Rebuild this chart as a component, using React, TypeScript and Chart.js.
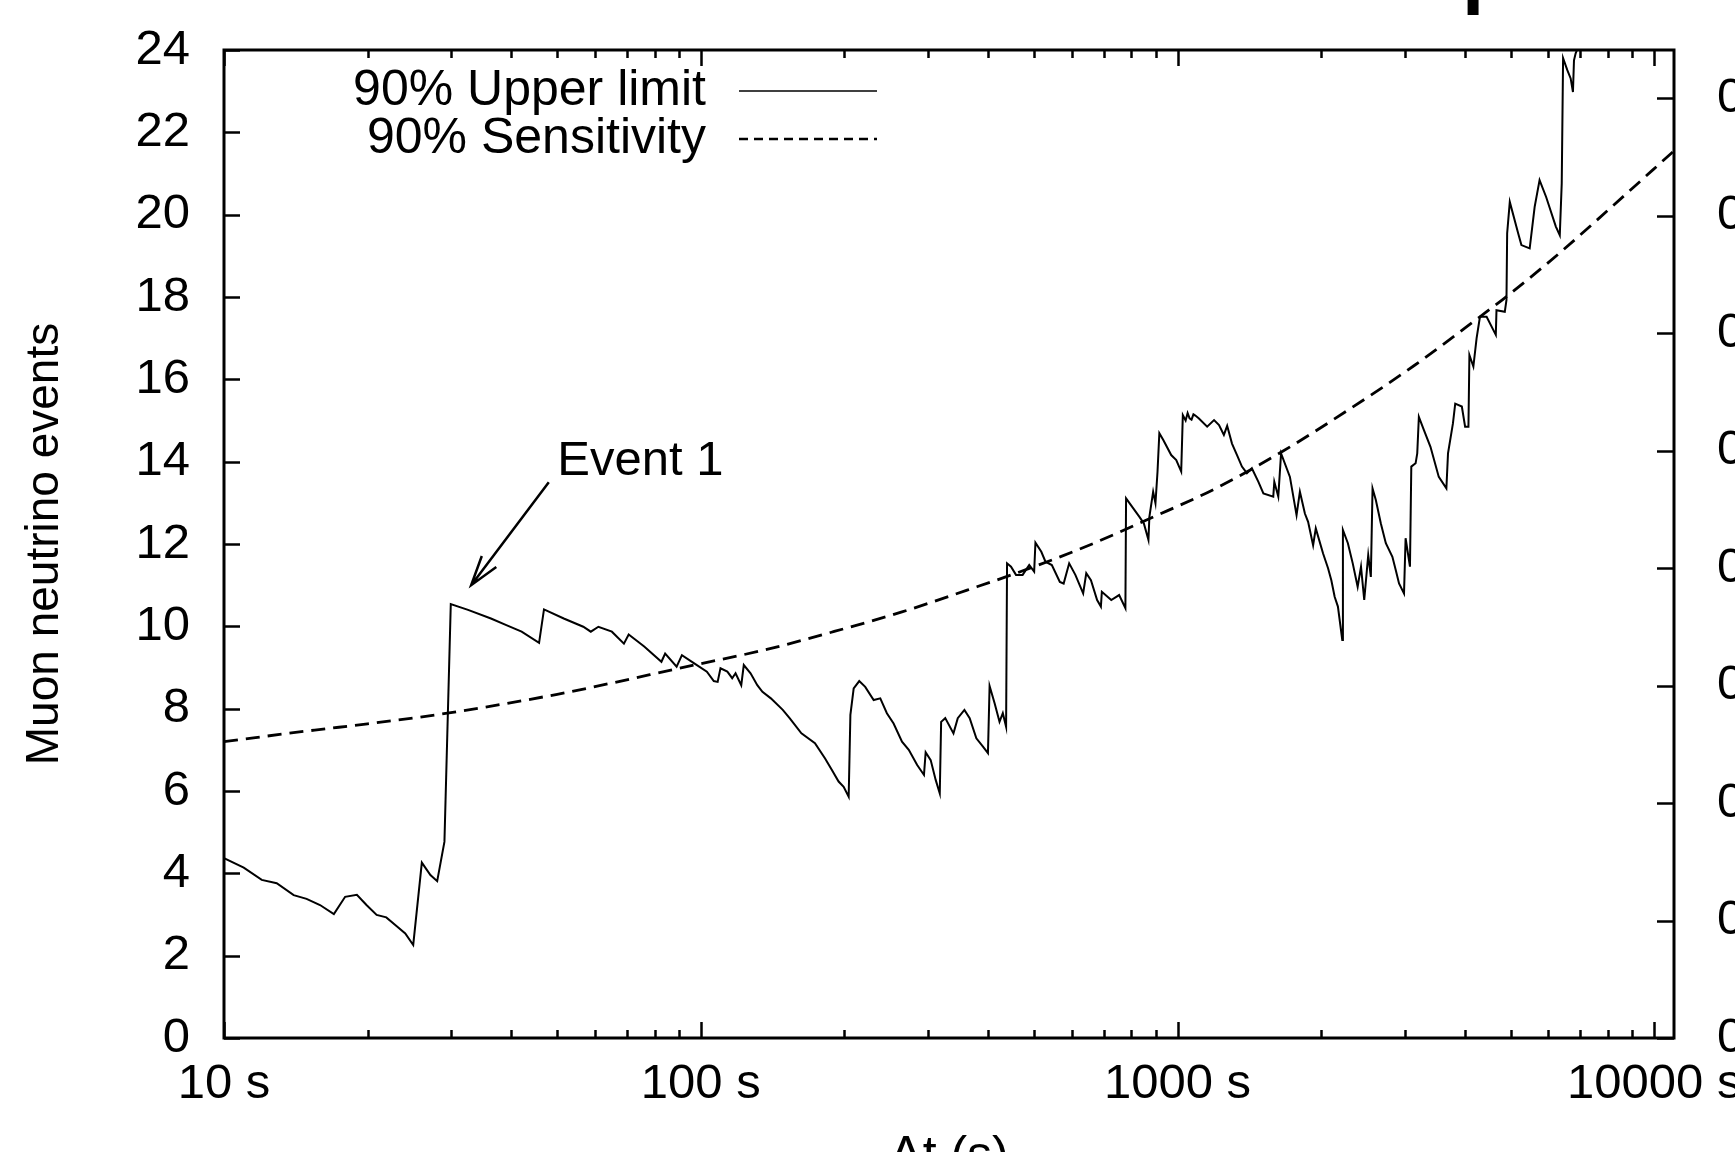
import React, { useEffect, useRef } from 'react';
import { Chart, registerables } from 'chart.js';

Chart.register(...registerables);

// ---------------- data ----------------
const seriesLabels = ['90% Upper limit', '90% Sensitivity'];

// [time in s, muon neutrino events]
const upperLimit: [number, number][] = [
  [10, 4.37], [11, 4.14], [12, 3.84], [12.9, 3.76], [14, 3.47], [14.9, 3.38], [15.9, 3.23], [17, 3.01],
  [17.95, 3.43], [19, 3.48], [19.9, 3.23], [20.9, 2.99], [21.9, 2.93], [23, 2.72], [24, 2.54], [24.94, 2.26],
  [26, 4.26], [27.1, 3.96], [28, 3.81], [29, 4.77], [29.9, 10.54], [32.5, 10.4], [36.3, 10.19], [39.1, 10.03],
  [42.1, 9.87], [45.8, 9.6], [46.9, 10.41], [51.6, 10.19], [56.7, 9.99], [58.8, 9.87], [61, 9.99], [65.1, 9.87],
  [69, 9.58], [70.6, 9.8], [76.1, 9.51], [82.7, 9.14], [84.2, 9.34], [89, 9.02], [91.3, 9.3], [96.9, 9.1],
  [103, 8.9], [106.5, 8.67], [108.5, 8.65], [110, 8.98], [113.7, 8.9], [116.4, 8.74], [118.3, 8.86], [121.6, 8.57],
  [123.1, 9.06], [127.2, 8.86], [131.4, 8.57], [134.7, 8.41], [140.3, 8.25], [148.6, 7.97], [153.6, 7.77], [162.6, 7.4],
  [173.6, 7.16], [182.3, 6.79], [188.4, 6.51], [194.6, 6.23], [199.4, 6.1], [204.3, 5.86], [206, 7.85], [209.3, 8.49],
  [215, 8.67], [221.3, 8.53], [230.5, 8.21], [238, 8.25], [245.7, 7.89], [253.8, 7.64], [264.3, 7.2], [273.1, 7.0],
  [284.4, 6.63], [293.9, 6.39], [296.3, 6.94], [303.6, 6.75], [311, 6.27], [317.2, 5.94], [319.3, 7.68], [325.7, 7.77],
  [338.9, 7.4], [346, 7.77], [357.3, 7.97], [366.5, 7.77], [378.5, 7.28], [390.8, 7.08], [400.3, 6.92], [403.5, 8.55],
  [413.4, 8.13], [423.3, 7.68], [430.1, 7.89], [437, 7.56], [439, 11.53], [447.5, 11.45], [458.4, 11.25], [473.3, 11.25],
  [488.6, 11.49], [500.4, 11.33], [503.5, 12.03], [518, 11.81], [528.5, 11.57], [545, 11.49], [566.5, 11.08], [577, 11.04],
  [592.6, 11.53], [610.6, 11.25], [634, 10.8], [643.6, 11.29], [658.3, 11.12], [678.2, 10.64], [690.7, 10.48], [693.9, 10.84],
  [726.2, 10.64], [754.3, 10.76], [777.5, 10.44], [780, 13.11], [832, 12.66], [850, 12.5], [869, 12.1], [873, 12.66],
  [889, 13.27], [899, 12.99], [908, 13.76], [916, 14.69], [933, 14.53], [970, 14.16], [994, 14.04], [1018, 13.76],
  [1026, 15.13], [1040, 15.0], [1050, 15.18], [1060, 15.05], [1070, 15.02], [1080, 15.15], [1090, 15.12], [1109, 15.05],
  [1154, 14.85], [1193, 15.01], [1222, 14.89], [1251, 14.65], [1271, 14.87], [1301, 14.44], [1333, 14.16], [1365, 13.88],
  [1398, 13.72], [1432, 13.84], [1478, 13.51], [1514, 13.23], [1588, 13.15], [1596, 13.51], [1627, 13.15], [1649, 14.2],
  [1721, 13.63], [1777, 12.7], [1806, 13.27], [1850, 12.74], [1879, 12.54], [1925, 11.97], [1950, 12.38], [2020, 11.77],
  [2069, 11.41], [2102, 11.12], [2136, 10.72], [2170, 10.48], [2216, 9.67], [2223, 12.34], [2277, 12.02], [2331, 11.53],
  [2387, 10.96], [2426, 11.45], [2464, 10.64], [2512, 11.73], [2544, 11.2], [2565, 13.35], [2606, 13.07], [2670, 12.5],
  [2735, 12.02], [2823, 11.69], [2869, 11.37], [2915, 11.04], [2986, 10.8], [3009, 12.14], [3073, 11.45], [3093, 13.88],
  [3158, 13.96], [3183, 14.2], [3208, 15.09], [3286, 14.77], [3393, 14.36], [3532, 13.63], [3664, 13.35], [3693, 14.2],
  [3782, 14.93], [3824, 15.41], [3948, 15.34], [4011, 14.85], [4076, 14.85], [4095, 16.59], [4174, 16.31], [4240, 17.0],
  [4309, 17.52], [4450, 17.52], [4652, 17.08], [4667, 17.68], [4858, 17.64], [4898, 17.93], [4914, 19.55], [4977, 20.31],
  [5182, 19.55], [5264, 19.26], [5479, 19.18], [5612, 20.19], [5747, 20.84], [5932, 20.43], [6217, 19.71], [6336, 19.5],
  [6396, 20.76], [6438, 23.8], [6571, 23.51], [6678, 23.31], [6752, 22.98], [6786, 23.75], [6841, 23.92], [7000, 24.2],
];

const sensitivity: [number, number][] = [
  [10, 7.2], [15.5, 7.48], [20, 7.63], [29.4, 7.89], [50, 8.35], [96.9, 9.06], [137.6, 9.44], [189.8, 9.87],
  [264.3, 10.35], [362, 10.88], [461, 11.3], [637, 11.92], [875, 12.62], [1203, 13.35], [1655, 14.24], [2277, 15.25],
  [3132, 16.33], [4309, 17.52], [4898, 18.01], [6318, 19.06], [8142, 20.19], [11000, 21.55],
];

const xMajorTicks = [10, 100, 1000, 10000];
const xMinorTicks = [20, 30, 40, 50, 60, 70, 80, 90, 200, 300, 400, 500, 600, 700, 800, 900,
  2000, 3000, 4000, 5000, 6000, 7000, 8000, 9000];
const yTickValues = [0, 2, 4, 6, 8, 10, 12, 14, 16, 18, 20, 22, 24];
const y2TickValues = [0, 0.1, 0.2, 0.3, 0.4, 0.5, 0.6, 0.7, 0.8];
const y2TickLabels = ['0', '0.1', '0.2', '0.3', '0.4', '0.5', '0.6', '0.7', '0.8'];

const xAxisTitle = 'Δt (s)';
const yAxisTitle = 'Muon neutrino events';
const titleFragment = 'p';

const eventLabel = 'Event 1';
const eventLabelAt: [number, number] = [50, 14.0];
const eventArrowFrom: [number, number] = [48, 13.5];
const eventArrowTo: [number, number] = [33, 11.0];

// ---------------- styling ----------------
const FONT = '"Liberation Sans", Arial, Helvetica, sans-serif';

const decorPlugin = {
  id: 'decor',
  afterDraw(chart: any) {
    const { ctx, chartArea } = chart;
    const { left, right, top, bottom } = chartArea;
    const xs = chart.scales.x;
    const ys = chart.scales.y;
    const y2s = chart.scales.y2;
    ctx.save();
    ctx.strokeStyle = '#000';
    ctx.fillStyle = '#000';
    ctx.lineCap = 'butt';

    // x ticks (bottom & top, inward)
    ctx.lineWidth = 2.5;
    const drawX = (v: number, len: number) => {
      const px = Math.round(xs.getPixelForValue(v)) + 0.5;
      ctx.beginPath();
      ctx.moveTo(px, bottom);
      ctx.lineTo(px, bottom - len);
      ctx.moveTo(px, top);
      ctx.lineTo(px, top + len);
      ctx.stroke();
    };
    xMajorTicks.forEach((v) => drawX(v, 16));
    xMinorTicks.forEach((v) => drawX(v, 8));

    // left y ticks
    yTickValues.forEach((v) => {
      const py = Math.round(ys.getPixelForValue(v)) + 0.5;
      ctx.beginPath();
      ctx.moveTo(left, py);
      ctx.lineTo(left + 16, py);
      ctx.stroke();
    });
    // right y2 ticks
    y2TickValues.forEach((v) => {
      const py = Math.round(y2s.getPixelForValue(v)) + 0.5;
      ctx.beginPath();
      ctx.moveTo(right, py);
      ctx.lineTo(right - 17, py);
      ctx.stroke();
    });

    // frame
    ctx.lineWidth = 3;
    ctx.strokeRect(left, top, right - left, bottom - top);

    // key (gnuplot style: text right-aligned, then sample)
    ctx.font = `50px ${FONT}`;
    ctx.textAlign = 'right';
    ctx.textBaseline = 'middle';
    const textRight = left + 482;
    const sampleL = left + 515;
    const sampleR = left + 653;
    const rows = [top + 41, top + 89];
    chart.data.datasets.forEach((ds: any, i: number) => {
      ctx.fillText(ds.label, textRight, rows[i]);
      ctx.save();
      ctx.lineWidth = i === 0 ? 1.6 : 2.4;
      ctx.setLineDash(i === 0 ? [] : [9, 6]);
      ctx.beginPath();
      ctx.moveTo(sampleL, rows[i]);
      ctx.lineTo(sampleR, rows[i]);
      ctx.stroke();
      ctx.restore();
    });

    // Event 1 annotation
    ctx.font = `49px ${FONT}`;
    ctx.textAlign = 'left';
    ctx.textBaseline = 'middle';
    ctx.fillText(eventLabel, xs.getPixelForValue(eventLabelAt[0]), ys.getPixelForValue(eventLabelAt[1]));
    const ax0 = xs.getPixelForValue(eventArrowFrom[0]);
    const ay0 = ys.getPixelForValue(eventArrowFrom[1]);
    const ax1 = xs.getPixelForValue(eventArrowTo[0]);
    const ay1 = ys.getPixelForValue(eventArrowTo[1]);
    ctx.lineWidth = 2.5;
    ctx.beginPath();
    ctx.moveTo(ax0, ay0);
    ctx.lineTo(ax1, ay1);
    const ang = Math.atan2(ay0 - ay1, ax0 - ax1);
    const hl = 31;
    const ha = (17 * Math.PI) / 180;
    ctx.moveTo(ax1 + hl * Math.cos(ang - ha), ay1 + hl * Math.sin(ang - ha));
    ctx.lineTo(ax1, ay1);
    ctx.lineTo(ax1 + hl * Math.cos(ang + ha), ay1 + hl * Math.sin(ang + ha));
    ctx.stroke();

    // fragment of the (cropped) title at the very top
    ctx.font = `bold 80px ${FONT}`;
    ctx.textAlign = 'left';
    ctx.textBaseline = 'alphabetic';
    ctx.fillText(titleFragment, 1462, -2);

    ctx.restore();
  },
};

export default function App() {
  const canvasRef = useRef<HTMLCanvasElement | null>(null);

  useEffect(() => {
    const canvas = canvasRef.current;
    if (!canvas) return;
    const tickFont = { family: FONT, size: 49 };
    const chart = new Chart(canvas, {
      type: 'line',
      data: {
        datasets: [
          {
            label: seriesLabels[0],
            data: upperLimit.map(([x, y]) => ({ x, y })),
            borderColor: '#000',
            backgroundColor: '#000',
            borderWidth: 2,
            pointRadius: 0,
            tension: 0,
            yAxisID: 'y',
          },
          {
            label: seriesLabels[1],
            data: sensitivity.map(([x, y]) => ({ x, y })),
            borderColor: '#000',
            backgroundColor: '#000',
            borderWidth: 2.8,
            borderDash: [14, 8],
            pointRadius: 0,
            cubicInterpolationMode: 'monotone',
            yAxisID: 'y',
          },
        ],
      },
      options: {
        animation: false,
        responsive: false,
        devicePixelRatio: 1,
        layout: { padding: { top: 50, left: 0, right: 0, bottom: 0 } },
        plugins: { legend: { display: false }, tooltip: { enabled: false } },
        scales: {
          x: {
            type: 'logarithmic',
            position: 'bottom',
            min: 10,
            max: 11000,
            grid: { display: false, drawTicks: false },
            border: { display: false },
            afterBuildTicks: (s: any) => {
              s.ticks = [...xMajorTicks, ...xMinorTicks].sort((a, b) => a - b).map((v) => ({ value: v }));
            },
            ticks: {
              autoSkip: false,
              maxRotation: 0,
              minRotation: 0,
              padding: 17,
              color: '#000',
              font: tickFont,
              callback: (v: any) => (xMajorTicks.includes(Number(v)) ? `${v} s` : ''),
            },
            title: {
              display: true,
              text: xAxisTitle,
              color: '#000',
              font: { family: FONT, size: 50 },
              padding: { top: 0, bottom: -35 },
            },
            afterFit: (s: any) => {
              s.height = 114;
              s.paddingLeft = 0;
              s.paddingRight = 0;
            },
          },
          y: {
            position: 'left',
            min: 0,
            max: 24,
            grid: { display: false, drawTicks: false },
            border: { display: false },
            afterBuildTicks: (s: any) => {
              s.ticks = yTickValues.map((v) => ({ value: v }));
            },
            ticks: { padding: 34, color: '#000', font: tickFont, autoSkip: false },
            title: {
              display: true,
              text: yAxisTitle,
              color: '#000',
              font: { family: FONT, size: 46 },
              padding: { top: 18, bottom: 0 },
            },
            afterFit: (s: any) => {
              s.width = 224;
              s.paddingTop = 0;
              s.paddingBottom = 0;
            },
          },
          y2: {
            position: 'right',
            min: 0,
            max: 0.841,
            grid: { display: false, drawTicks: false },
            border: { display: false },
            afterBuildTicks: (s: any) => {
              s.ticks = y2TickValues.map((v) => ({ value: v }));
            },
            ticks: {
              padding: 43,
              color: '#000',
              font: tickFont,
              autoSkip: false,
              callback: (_v: any, i: number) => y2TickLabels[i],
            },
            afterFit: (s: any) => {
              s.width = 61;
              s.paddingTop = 0;
              s.paddingBottom = 0;
            },
          },
        },
      } as any,
      plugins: [decorPlugin],
    });
    return () => chart.destroy();
  }, []);

  return (
    <div style={{ position: 'absolute', left: 0, top: 0, width: 1735, height: 1152, background: '#fff' }}>
      <canvas ref={canvasRef} width={1735} height={1152} style={{ display: 'block' }} />
    </div>
  );
}
